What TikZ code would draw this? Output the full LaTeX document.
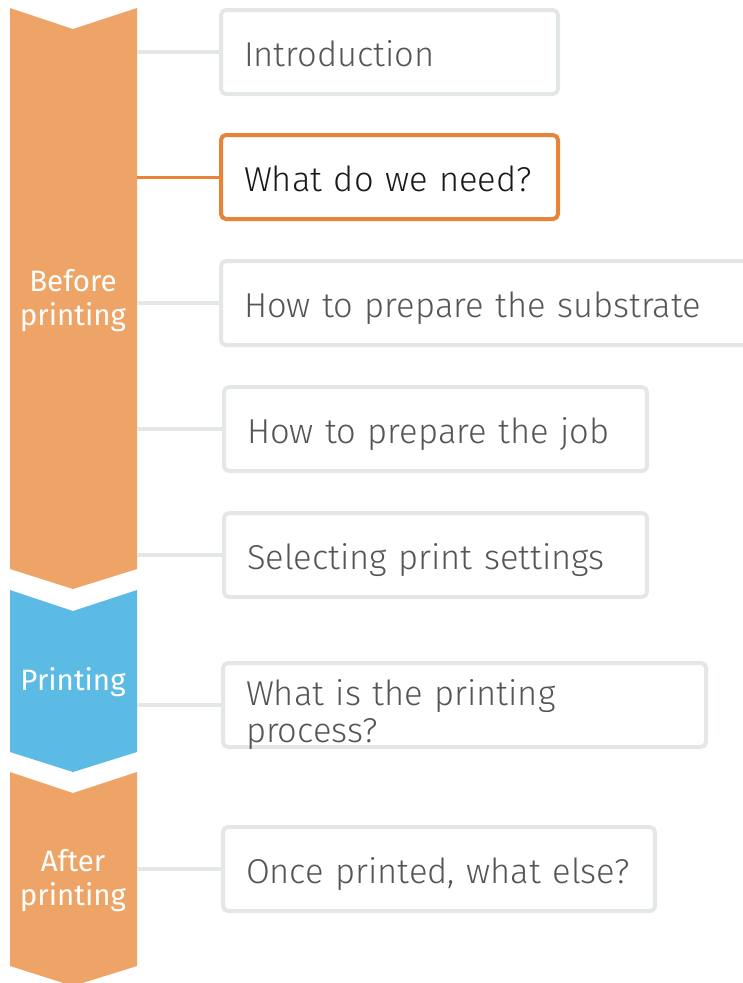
\documentclass[tikz,border=0pt]{standalone}
\usepackage{fontspec}
\setmainfont{Fira Sans Light}
\newfontfamily\phasefont{Fira Sans}
\usetikzlibrary{calc}

\definecolor{phaseorange}{RGB}{238,164,103}
\definecolor{phaseblue}{RGB}{91,187,228}
\definecolor{boxgray}{RGB}{228,231,231}
\definecolor{activeorange}{RGB}{233,131,58}
\definecolor{textgray}{RGB}{85,85,85}

\tikzset{
  topic/.style={draw=boxgray, line width=4pt, rounded corners=5pt, fill=white,
    anchor=west, minimum height=84pt, inner xsep=23pt, inner ysep=0pt,
    text width=#1-50pt, align=left, text height=28pt, text depth=0pt,
    text=textgray, font=\fontsize{34.5}{37}\selectfont},
  active/.style={draw=activeorange, text=black!90},
  link/.style={draw=boxgray, line width=4pt},
  phaselabel/.style={text=white, align=center, font=\phasefont\fontsize{29.5}{34}\selectfont}
}

\begin{document}
\begin{tikzpicture}[x=1pt,y=-1pt]
\useasboundingbox (0,0) rectangle (743,983);
\clip (0,0) rectangle (743,983);
% chevron: top edge, bottom edge, colour
\def\phase#1#2#3{\fill[#3] (10,#1) -- (73,#1+21) -- (137,#1) -- (137,#2) -- (73,#2+20) -- (10,#2) -- cycle;}
\phase{8}{569}{phaseorange}
\phase{590}{752}{phaseblue}
\phase{772}{966}{phaseorange}
\coordinate (rim) at (137,0);

\node [phaselabel] (before) at (73,301) {Before\\printing};
\node [phaselabel] (printing) at (73,682) {Printing};
\node [phaselabel] (after) at (73,881) {After\\printing};

\node [topic=341pt] (b1) at (219,52) {Introduction};
\node [topic=341pt, active] (b2) at (219,177) {What do we need?};
\node [topic=561pt] (b3) at (219,303) {How to prepare the substrate};
\node [topic=427pt] (b4) at (222,429) {How to prepare the job};
\node [topic=427pt] (b5) at (222,555) {Selecting print settings};
\node [topic=487pt, text height=0pt] (b6) at (221,705) {What is the printing\\process?};
\node [topic=436pt] (b7) at (221,869) {Once printed, what else?};

\draw[link] (b1.west -| rim) -- (b1.west);
\draw[link, draw=activeorange, line width=3pt] (b2.west -| rim) -- (b2.west);
\draw[link] (b3.west -| rim) -- (b3.west);
\draw[link] (b4.west -| rim) -- (b4.west);
\draw[link] (b5.west -| rim) -- (b5.west);
\draw[link] (b6.west -| rim) -- (b6.west);
\draw[link] (b7.west -| rim) -- (b7.west);
\end{tikzpicture}
\end{document}
